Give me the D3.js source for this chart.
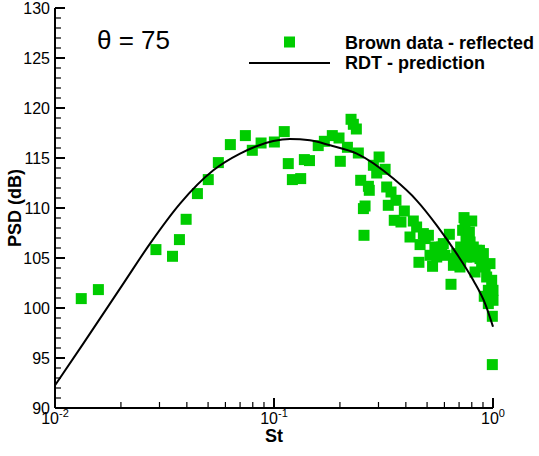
<!DOCTYPE html>
<html>
<head>
<meta charset="utf-8">
<script src="https://cdn.jsdelivr.net/npm/d3@7"></script>
<style>
  body { margin: 0; background: #fff; }
  text { font-family: "Liberation Sans", Arial, sans-serif; fill: #000; }
</style>
</head>
<body>
<div class="chart"></div>
<script>
// Brown data - reflected (St, PSD dB)
const brownSt = [0.01318, 0.01578, 0.0289, 0.0344, 0.0370, 0.0397, 0.0447, 0.0501, 0.0557, 0.0632,
  0.0740, 0.0796, 0.0873, 0.1004, 0.1114, 0.1162, 0.1213, 0.1324, 0.1376, 0.1452,
  0.1592, 0.1698, 0.1846, 0.1981, 0.2008, 0.2164, 0.2248, 0.2303, 0.2377, 0.2427,
  0.2488, 0.2560, 0.2605, 0.2576, 0.2698, 0.2723, 0.2843, 0.2944, 0.3019, 0.3216,
  0.3270, 0.3325, 0.3422, 0.3605, 0.3541, 0.3800, 0.3937, 0.4178, 0.4326, 0.4480,
  0.4645, 0.4808, 0.4590, 0.5070, 0.5156, 0.5297, 0.5429, 0.5726, 0.5929, 0.6036,
  0.6320, 0.6430, 0.6594, 0.6828, 0.7064, 0.7374, 0.7267, 0.7530, 0.7637, 0.7995,
  0.7858, 0.8128, 0.8279, 0.8672, 0.8873, 0.9037, 0.9355, 0.9688, 0.9122, 0.9520,
  0.9862, 1.0, 0.993, 0.993, 1.0, 0.952,
  0.4898, 0.5534, 0.5834, 0.6714, 0.7118, 0.7447, 0.7800, 0.8414, 0.8723, 0.9203,
  0.8128, 0.7586, 0.7118];
const brownPsd = [100.94, 101.84, 105.84, 105.17, 106.84, 108.87, 111.44, 112.84, 114.54, 116.34,
  117.24, 115.77, 116.5, 116.6, 117.64, 114.44, 112.84, 112.94, 114.84, 114.74,
  116.24, 116.67, 117.24, 117.0, 114.67, 116.07, 118.87, 118.37, 117.9, 115.5,
  112.77, 109.94, 110.2, 107.27, 112.17, 111.77, 114.27, 113.5, 115.1, 113.87,
  112.1, 110.27, 111.6, 110.77, 108.77, 108.6, 109.7, 107.1, 108.7, 108.1,
  106.34, 107.44, 104.57, 107.27, 105.27, 104.17, 106.1, 105.44, 106.44, 105.27,
  107.37, 102.37, 104.27, 105.44, 104.1, 109.04, 107.77, 107.1, 106.1, 108.7,
  106.6, 105.1, 103.6, 105.77, 104.44, 105.44, 103.1, 104.44, 101.17, 101.77,
  102.77, 100.77, 99.17, 94.34, 101.77, 100.44,
  106.94, 105.1, 106.1, 104.94, 106.1, 108.1, 107.6, 105.77, 104.94, 104.1,
  106.1, 105.1, 104.6];

// RDT - prediction
const rdtSt = [0.01, 0.01346, 0.02051, 0.02716, 0.03724, 0.05284, 0.06998, 0.0993, 0.1183,
  0.1459, 0.1803, 0.2388, 0.3508, 0.4477, 0.5534, 0.6823, 0.8128, 0.9204, 1.0];
const rdtPsd = [92.27, 96.44, 102.44, 106.44, 110.44, 113.77, 115.44, 116.7, 116.9,
  116.77, 116.27, 115.44, 112.94, 110.77, 108.27, 105.44, 102.77, 100.44, 98.13];

const yTicks = [90, 95, 100, 105, 110, 115, 120, 125, 130];
const xTickExp = [-2, -1, 0];

const width = 539, height = 456;
const margin = { top: 8, right: 46, bottom: 48, left: 55 };

const x = d3.scaleLog()
  .domain([0.01, 1])
  .range([margin.left, width - margin.right]);

const y = d3.scaleLinear()
  .domain([90, 130])
  .range([height - margin.bottom, margin.top]);

const svg = d3.select(".chart").append("svg")
  .attr("width", width)
  .attr("height", height);

const green = "#00cc00";

// data squares
const sq = 11;
svg.append("g")
  .selectAll("rect")
  .data(brownSt.map((s, i) => ({ st: s, psd: brownPsd[i] })))
  .join("rect")
  .attr("x", d => x(d.st) - sq / 2)
  .attr("y", d => y(d.psd) - sq / 2)
  .attr("width", sq)
  .attr("height", sq)
  .attr("fill", green);

// prediction line
const line = d3.line()
  .x(d => x(d.st))
  .y(d => y(d.psd))
  .curve(d3.curveMonotoneX);

svg.append("path")
  .datum(rdtSt.map((s, i) => ({ st: s, psd: rdtPsd[i] })))
  .attr("fill", "none")
  .attr("stroke", "#000")
  .attr("stroke-width", 2)
  .attr("stroke-linejoin", "round")
  .attr("d", line);

// y axis (ticks point inward)
const yAxis = svg.append("g");
yAxis.append("line")
  .attr("x1", x(0.01)).attr("x2", x(0.01))
  .attr("y1", y(130)).attr("y2", y(90))
  .attr("stroke", "#000").attr("stroke-width", 2);
const yMinor = d3.range(90, 131, 1);
yAxis.selectAll(".ytick")
  .data(yMinor)
  .join("line")
  .attr("x1", x(0.01))
  .attr("x2", d => x(0.01) + (d % 5 === 0 ? 10 : 6))
  .attr("y1", d => y(d)).attr("y2", d => y(d))
  .attr("stroke", "#000")
  .attr("stroke-width", d => d % 5 === 0 ? 2 : 1.2);
yAxis.selectAll(".ylabel")
  .data(yTicks)
  .join("text")
  .attr("x", x(0.01) - 5)
  .attr("y", d => y(d))
  .attr("dy", "0.35em")
  .attr("text-anchor", "end")
  .attr("font-size", 16)
  .text(d => d);

// x axis (log, ticks point inward)
const xAxis = svg.append("g");
xAxis.append("line")
  .attr("x1", x(0.01)).attr("x2", x(1))
  .attr("y1", y(90)).attr("y2", y(90))
  .attr("stroke", "#000").attr("stroke-width", 2);
const xMinor = [];
[-2, -1].forEach(e => d3.range(2, 10).forEach(m => xMinor.push(m * Math.pow(10, e))));
xAxis.selectAll(".xminor")
  .data(xMinor)
  .join("line")
  .attr("x1", d => x(d)).attr("x2", d => x(d))
  .attr("y1", y(90)).attr("y2", y(90) - 6)
  .attr("stroke", "#000").attr("stroke-width", 1.2);
xAxis.selectAll(".xmajor")
  .data(xTickExp)
  .join("line")
  .attr("x1", d => x(Math.pow(10, d))).attr("x2", d => x(Math.pow(10, d)))
  .attr("y1", y(90)).attr("y2", y(90) - 10)
  .attr("stroke", "#000").attr("stroke-width", 2);
const xl = xAxis.selectAll(".xlabel")
  .data(xTickExp)
  .join("text")
  .attr("x", d => x(Math.pow(10, d)))
  .attr("y", 424)
  .attr("text-anchor", "middle")
  .attr("font-size", 16);
xl.append("tspan").text("10");
xl.append("tspan")
  .attr("font-size", 11)
  .attr("dy", -7)
  .text(d => d);

// axis titles
svg.append("text")
  .attr("x", x(0.1))
  .attr("y", 442)
  .attr("text-anchor", "middle")
  .attr("font-size", 18)
  .attr("font-weight", "bold")
  .text("St");

svg.append("text")
  .attr("transform", `translate(21,${(y(90) + y(130)) / 2}) rotate(-90)`)
  .attr("text-anchor", "middle")
  .attr("font-size", 18)
  .attr("font-weight", "bold")
  .text("PSD (dB)");

// annotation
svg.append("text")
  .attr("x", 97)
  .attr("y", 49)
  .attr("font-size", 26)
  .text("θ = 75");

// legend
const legend = svg.append("g");
legend.append("rect")
  .attr("x", 289.5 - sq / 2).attr("y", 42 - sq / 2)
  .attr("width", sq).attr("height", sq)
  .attr("fill", green);
legend.append("text")
  .attr("x", 345).attr("y", 48.5)
  .attr("font-size", 18).attr("font-weight", "bold")
  .text("Brown data - reflected");
legend.append("line")
  .attr("x1", 249).attr("x2", 330)
  .attr("y1", 63).attr("y2", 63)
  .attr("stroke", "#000").attr("stroke-width", 2);
legend.append("text")
  .attr("x", 345).attr("y", 69)
  .attr("font-size", 18).attr("font-weight", "bold")
  .text("RDT - prediction");
</script>
</body>
</html>
